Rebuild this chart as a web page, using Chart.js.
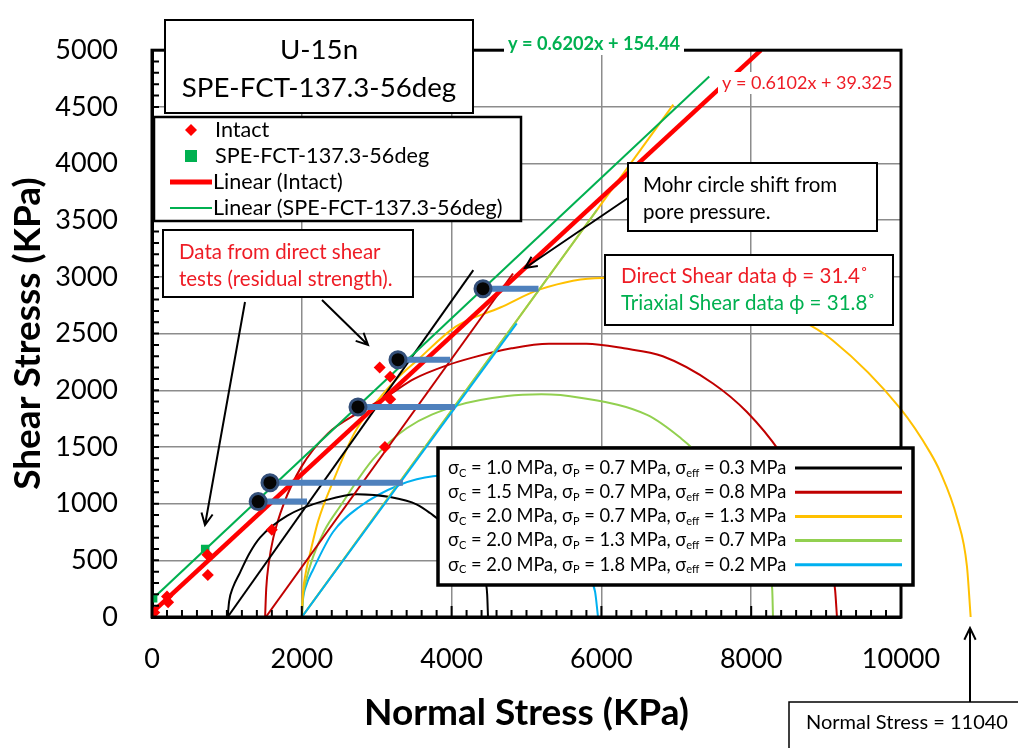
<!DOCTYPE html>
<html>
<head>
<meta charset="utf-8">
<script src="https://cdn.jsdelivr.net/npm/chart.js@4.4.0/dist/chart.umd.min.js"></script>
<style>
  html, body { margin: 0; padding: 0; background: #fff; }
  #wrap { width: 1018px; height: 748px; }
</style>
</head>
<body>
<div id="wrap"><canvas id="myChart" width="1018" height="748"></canvas></div>
<script>
// Direct shear (intact) points
const intactX = [30, 200, 215, 740, 745, 1570, 1600, 3110, 3180, 3180, 3040];
const intactY = [40, 180, 130, 550, 370, 1170, 770, 1500, 1920, 2120, 2200];

// Triaxial points SPE-FCT-137.3-56deg
const speX = [15, 710, 1400, 1560, 2735, 3270, 4400];
const speY = [165, 600, 1000, 1170, 1835, 2250, 2875];

// trendlines (as printed on the chart)
const trendSlope = [0.6102, 0.6202];
const trendIntercept = [39.325, 154.44];
const trendEndX = [8130, 7440];

// stress points and their shift (pore pressure)
const shiftY = [1018, 1185, 1853, 2270, 2896];
const shiftFromX = [1417, 1575, 2750, 3284, 4419];
const shiftToX = [2070, 3350, 4045, 3980, 5160];

// Mohr circles
const arcBlackX = [1010, 1030, 1080, 1175, 1300, 1442, 1802, 2336, 2737, 3178, 3538, 3712, 4000, 4250, 4440, 4475, 4486];
const arcBlackY = [0, 140, 260, 392, 560, 700, 892, 1033, 1083, 1058, 992, 917, 760, 540, 330, 200, 0];
const arcRedX = [1510, 1525, 1560, 1620, 1760, 1990, 2350, 2750, 3100, 3500, 3940, 4290, 4800, 5300, 5800, 6300, 6820, 7490, 7940, 8390, 8800, 9000, 9120, 9145];
const arcRedY = [0, 250, 480, 700, 1000, 1320, 1620, 1800, 1930, 2100, 2220, 2290, 2370, 2410, 2410, 2370, 2300, 2060, 1810, 1450, 1000, 640, 240, 0];
const arcYellowX = [2000, 2015, 2050, 2110, 2220, 2420, 2700, 3000, 3250, 3550, 4050, 4650, 5180, 6000, 7000, 8000, 8600, 9090, 9990, 10390, 10520, 10750, 10880, 10930];
const arcYellowY = [0, 210, 380, 560, 850, 1200, 1620, 1900, 2090, 2270, 2560, 2730, 2890, 2990, 2960, 2800, 2640, 2440, 1840, 1450, 1285, 870, 450, 0];
const arcGreenX = [2000, 2015, 2060, 2150, 2300, 2510, 2950, 3400, 4070, 4740, 5200, 5714, 6610, 7050, 7320, 7700, 8000, 8200, 8280, 8291];
const arcGreenY = [0, 170, 330, 530, 760, 975, 1390, 1665, 1865, 1950, 1965, 1935, 1783, 1583, 1417, 1050, 740, 450, 250, 0];
const arcCyanX = [2000, 2015, 2060, 2150, 2417, 2777, 3311, 3752, 4100, 4600, 5200, 5600, 5850, 5915, 5955];
const arcCyanY = [0, 150, 280, 417, 750, 975, 1167, 1242, 1250, 1150, 900, 600, 330, 225, 0];

// straight lines from the circles
const lineX0 = [1010, 1520, 2000, 2000, 2000];
const lineY0 = [0, 0, 0, 0, 0];
const lineX1 = [4290, 4820, 6960, 5940, 4870];
const lineY1 = [3060, 3030, 4520, 3590, 2590];

// circle legend values (MPa)
const circleSc = ['1.0', '1.5', '2.0', '2.0', '2.0'];
const circleSp = ['0.7', '0.7', '0.7', '1.3', '1.8'];
const circleSeff = ['0.3', '0.8', '1.3', '0.7', '0.2'];

const circleColors = ['#000000', '#c00000', '#ffc000', '#92d050', '#00b0f0'];
const FONT = 'Lato, "Open Sans", sans-serif';
const RED = '#ee1c25';
const GREEN = '#00b050';

function pts(xs, ys) {
    return xs.map(function (x, i) { return { x: x, y: ys[i] }; });
}

const datasets = [];

// dark stress points on top
datasets.push({
    data: pts(shiftFromX, shiftY),
    pointStyle: 'circle', pointRadius: 8, borderWidth: 3,
    borderColor: '#34507a', backgroundColor: '#050505', showLine: false
});
// blue shift bars
shiftY.forEach(function (y, i) {
    datasets.push({
        data: [{ x: shiftFromX[i], y: y }, { x: shiftToX[i], y: y }],
        showLine: true, borderColor: '#4f81bd', borderWidth: 6, pointRadius: 0
    });
});
datasets.push({
    data: pts(intactX, intactY), pointStyle: 'rectRot', pointRadius: 6,
    backgroundColor: '#ff0000', borderColor: '#ff0000', borderWidth: 0, showLine: false
});
datasets.push({
    data: pts(speX, speY), pointStyle: 'rect', pointRadius: 6,
    backgroundColor: GREEN, borderColor: GREEN, borderWidth: 0, showLine: false
});
// trendlines
const trendColors = ['#ff0000', '#00b050'];
const trendWidths = [4.5, 2];
trendSlope.forEach(function (m, i) {
    datasets.push({
        data: [{ x: 0, y: trendIntercept[i] }, { x: trendEndX[i], y: m * trendEndX[i] + trendIntercept[i] }],
        showLine: true, borderColor: trendColors[i], borderWidth: trendWidths[i], pointRadius: 0
    });
});
// straight lines (cyan on top)
[4, 3, 2, 1, 0].forEach(function (i) {
    datasets.push({
        data: [{ x: lineX0[i], y: lineY0[i] }, { x: lineX1[i], y: lineY1[i] }],
        showLine: true, borderColor: circleColors[i], borderWidth: 2, pointRadius: 0
    });
});
// Mohr circles; the big yellow one runs past the axis end, so it is fed
// right-to-left (unsorted) so that Chart.js keeps the points beyond x max
const arcs = [[arcBlackX, arcBlackY], [arcRedX, arcRedY], [arcYellowX, arcYellowY], [arcGreenX, arcGreenY], [arcCyanX, arcCyanY]];
arcs.forEach(function (a, i) {
    const d = pts(a[0], a[1]);
    datasets.push({
        data: i === 2 ? d.reverse() : d, showLine: true, borderColor: circleColors[i],
        borderWidth: 2, pointRadius: 0, cubicInterpolationMode: 'monotone',
        clip: i === 2 ? false : undefined
    });
});

function arrow(ctx, x1, y1, x2, y2) {
    const ang = Math.atan2(y2 - y1, x2 - x1);
    const len = 13, spread = 0.45;
    ctx.beginPath();
    ctx.moveTo(x1, y1);
    ctx.lineTo(x2, y2);
    ctx.moveTo(x2 - len * Math.cos(ang - spread), y2 - len * Math.sin(ang - spread));
    ctx.lineTo(x2, y2);
    ctx.lineTo(x2 - len * Math.cos(ang + spread), y2 - len * Math.sin(ang + spread));
    ctx.stroke();
}

function box(ctx, x, y, w, h, lw) {
    ctx.fillStyle = '#fff';
    ctx.fillRect(x, y, w, h);
    ctx.lineWidth = lw;
    ctx.strokeStyle = '#000';
    ctx.strokeRect(x, y, w, h);
}

// set a font size so that the text takes the given width
function fitFont(ctx, text, width, weight) {
    ctx.font = weight + ' 20px ' + FONT;
    const size = 20 * width / ctx.measureText(text).width;
    ctx.font = weight + ' ' + size.toFixed(1) + 'px ' + FONT;
}

function rich(ctx, parts, x, y, size) {
    let cx = x;
    parts.forEach(function (p) {
        const sub = p[1];
        ctx.font = (sub ? Math.round(size * 0.62) : size) + 'px ' + FONT;
        ctx.fillText(p[0], cx, sub ? y + size * 0.28 : y);
        cx += ctx.measureText(p[0]).width;
    });
}

const decor = {
    id: 'decor',
    afterDraw: function (chart) {
        const ctx = chart.ctx;
        const xs = chart.scales.x, ys = chart.scales.y;
        const a = chart.chartArea;
        ctx.save();
        ctx.strokeStyle = '#000';
        // minor ticks
        ctx.lineWidth = 2;
        ctx.beginPath();
        for (let v = 200; v < 10000; v += 200) {
            const px = xs.getPixelForValue(v);
            const l = v % 2000 === 0 ? 11 : 7;
            ctx.moveTo(px, a.bottom);
            ctx.lineTo(px, a.bottom - l);
        }
        for (let v = 100; v < 5000; v += 100) {
            const py = ys.getPixelForValue(v);
            ctx.moveTo(a.left, py);
            ctx.lineTo(a.left + 7, py);
        }
        ctx.stroke();
        // frame
        ctx.lineWidth = 3;
        ctx.strokeRect(a.left, a.top, a.right - a.left, a.bottom - a.top);

        ctx.textBaseline = 'middle';
        // title box
        box(ctx, 165, 20, 308, 93, 2);
        ctx.fillStyle = '#000';
        ctx.textAlign = 'center';
        fitFont(ctx, 'SPE-FCT-137.3-56deg', 275, 'normal');
        ctx.fillText('U-15n', 319, 50);
        ctx.fillText('SPE-FCT-137.3-56deg', 319, 88);

        // series legend
        ctx.textAlign = 'left';
        box(ctx, 154, 117, 367, 104, 2.5);
        ctx.fillStyle = '#ff0000';
        ctx.beginPath();
        ctx.moveTo(191, 124); ctx.lineTo(197, 130); ctx.lineTo(191, 136); ctx.lineTo(185, 130);
        ctx.closePath(); ctx.fill();
        ctx.fillStyle = GREEN;
        ctx.fillRect(185, 150, 12, 12);
        ctx.lineWidth = 5; ctx.strokeStyle = '#ff0000';
        ctx.beginPath(); ctx.moveTo(170, 182); ctx.lineTo(212, 182); ctx.stroke();
        ctx.lineWidth = 2; ctx.strokeStyle = GREEN;
        ctx.beginPath(); ctx.moveTo(170, 208); ctx.lineTo(212, 208); ctx.stroke();
        ctx.fillStyle = '#000';
        fitFont(ctx, 'Linear (SPE-FCT-137.3-56deg)', 290, 'normal');
        ctx.fillText('Intact', 215, 130);
        ctx.fillText('SPE-FCT-137.3-56deg', 215, 156);
        ctx.fillText('Linear (Intact)', 213, 182);
        ctx.fillText('Linear (SPE-FCT-137.3-56deg)', 213, 208);

        // note: direct shear
        box(ctx, 163, 230, 250, 67, 2);
        ctx.fillStyle = RED;
        ctx.font = '20.5px ' + FONT;
        ctx.fillText('Data from direct shear', 179, 252);
        ctx.fillText('tests (residual strength).', 179, 279);

        // note: Mohr shift
        box(ctx, 628, 163, 249, 68, 2);
        ctx.fillStyle = '#000';
        ctx.fillText('Mohr circle shift from', 643, 185);
        ctx.fillText('pore pressure.', 643, 212);

        // friction angle box
        box(ctx, 605, 255, 288, 70, 2);
        ctx.fillStyle = RED;
        ctx.fillText('Direct Shear data \u03d5 = 31.4\u02da', 621, 276);
        ctx.fillStyle = GREEN;
        ctx.fillText('Triaxial Shear data \u03d5 = 31.8\u02da', 621, 303);

        // circle legend
        box(ctx, 438, 448, 475, 137, 3.5);
        circleSc.forEach(function (sc, i) {
            const y = 468 + i * 24.2;
            ctx.fillStyle = '#000';
            rich(ctx, [['\u03c3', 0], ['C', 1], [' = ' + sc + ' MPa, \u03c3', 0], ['P', 1],
                [' = ' + circleSp[i] + ' MPa, \u03c3', 0], ['eff', 1], [' = ' + circleSeff[i] + ' MPa', 0]], 448, y, 18.3);
            ctx.strokeStyle = circleColors[i];
            ctx.lineWidth = 3;
            ctx.beginPath(); ctx.moveTo(795, y); ctx.lineTo(902, y); ctx.stroke();
        });

        // equations
        const eqG = 'y = 0.6202x + 154.44';
        fitFont(ctx, eqG, 172, 'bold');
        ctx.fillStyle = '#fff';
        ctx.fillRect(504, 33, 180, 22);
        ctx.fillStyle = GREEN;
        ctx.fillText(eqG, 508, 44);
        const eqR = 'y = 0.6102x + 39.325';
        fitFont(ctx, eqR, 170, 'normal');
        ctx.fillStyle = '#fff';
        ctx.fillRect(718, 72, 178, 22);
        ctx.fillStyle = RED;
        ctx.fillText(eqR, 722, 83);

        // normal stress note
        ctx.fillStyle = '#fff';
        ctx.fillRect(789, 702, 240, 60);
        ctx.lineWidth = 1.5; ctx.strokeStyle = '#000';
        ctx.strokeRect(789, 702, 240, 60);
        ctx.fillStyle = '#000';
        fitFont(ctx, 'Normal Stress = 11040', 202, 'normal');
        ctx.fillText('Normal Stress = 11040', 806, 723);

        // arrows
        ctx.lineWidth = 2; ctx.strokeStyle = '#000';
        arrow(ctx, 245, 302, 205, 525);
        arrow(ctx, 322, 300, 368, 345);
        arrow(ctx, 628, 198, 525, 268);
        arrow(ctx, 970, 702, 970, 628);
        ctx.restore();
    }
};

function plain(v) { return String(v); }

new Chart(document.getElementById('myChart').getContext('2d'), {
    type: 'scatter',
    data: { datasets: datasets },
    options: {
        responsive: false,
        animation: false,
        devicePixelRatio: 1,
        layout: { padding: { top: 17, right: 117, bottom: 0, left: 0 } },
        plugins: { legend: { display: false }, tooltip: { enabled: false } },
        scales: {
            x: {
                type: 'linear', min: 0, max: 10000,
                afterFit: function (s) { s.height = 131; },
                ticks: { stepSize: 2000, padding: 26, color: '#000', callback: plain, font: { family: FONT, size: 27 } },
                grid: { color: '#8c8c8c', lineWidth: 1.5, drawTicks: false },
                border: { color: '#000', width: 3 },
                title: { display: true, text: 'Normal Stress (KPa)', color: '#000',
                    font: { family: FONT, size: 37, weight: 'bold' }, padding: { top: 0, bottom: 13 } }
            },
            y: {
                type: 'linear', min: 0, max: 5000,
                afterFit: function (s) { s.width = 152; },
                ticks: { stepSize: 500, padding: 34, color: '#000', callback: plain, font: { family: FONT, size: 27 } },
                grid: { color: '#8c8c8c', lineWidth: 1.5, drawTicks: false },
                border: { color: '#000', width: 3 },
                title: { display: true, text: 'Shear Stresss (KPa)', color: '#000',
                    font: { family: FONT, size: 37, weight: 'bold' }, padding: { top: 6, bottom: 0 } }
            }
        }
    },
    plugins: [decor]
});
</script>
</body>
</html>
